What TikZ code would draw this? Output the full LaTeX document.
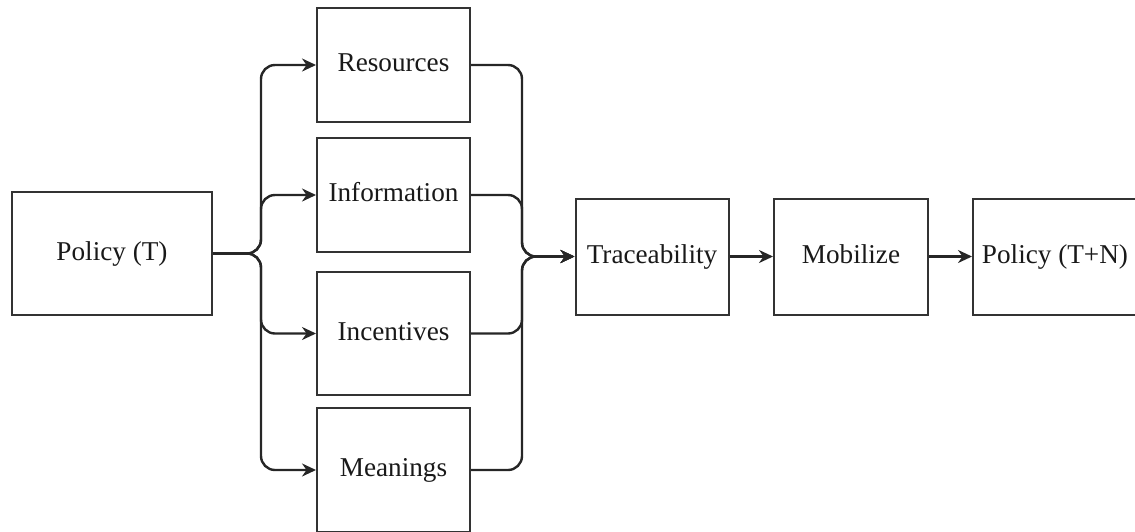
\documentclass[tikz,border=0pt]{standalone}
\usepackage{fontspec}
\setmainfont{Liberation Serif}
\usetikzlibrary{shapes.geometric, arrows.meta}
\tikzstyle{block} = [rectangle, minimum width=76.5pt, minimum height=58pt, text centered, text height=1.55ex, text depth=.1ex, draw=black!80, line width=1pt, fill=white, text=black!90, font=\fontsize{13.6}{16}\selectfont]
\tikzstyle{arrow} = [line width=1.2pt, draw=black!85, -{Stealth[length=7pt,width=6.5pt]}, rounded corners=7pt]

\begin{document}
\begin{tikzpicture}[x=0.5pt, y=-0.5pt]
\useasboundingbox (0,0) rectangle (1135,531);
\clip (0,0) rectangle (1135,531);

\node (policy) [block, minimum width=100pt, minimum height=61.5pt] at (112,253.5) {Policy (T)};

\node (res) [block, minimum height=57pt] at (393.5,65) {Resources};
\node (info) [block, minimum height=57pt] at (393.5,195) {Information};
\node (inc) [block, minimum height=61.5pt] at (393.5,333.5) {Incentives};
\node (mean) [block, minimum height=62pt] at (393.5,470) {Meanings};

\node (trace) [block] at (652,256.5) {Traceability};
\node (mob) [block, minimum width=77pt] at (851,256.5) {Mobilize};
\node (polnew) [block, minimum width=82pt] at (1055,256.5) {Policy (T+N)};

\coordinate (split) at (261,253.5);
\coordinate (merge) at (522,256.5);

\draw [arrow] (policy.east) -- (split) |- (res.west);
\draw [arrow] (policy.east) -- (split) |- (info.west);
\draw [arrow] (policy.east) -- (split) |- (inc.west);
\draw [arrow] (policy.east) -- (split) |- (mean.west);

\draw [arrow] (res.east) -| (merge) -- (trace.west);
\draw [arrow] (info.east) -| (merge) -- (trace.west);
\draw [arrow] (inc.east) -| (merge) -- (trace.west);
\draw [arrow] (mean.east) -| (merge) -- (trace.west);

\draw [arrow] (trace) -- (mob);
\draw [arrow] (mob) -- (polnew);

\end{tikzpicture}
\end{document}
